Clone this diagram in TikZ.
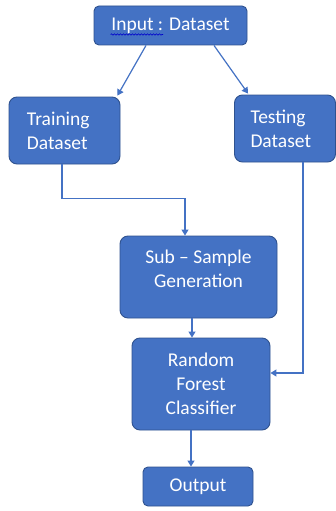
\documentclass[tikz,border=0pt]{standalone}
\usepackage{fontspec}
\setmainfont{Carlito}
\usetikzlibrary{calc}
\usetikzlibrary{arrows.meta}
\usetikzlibrary{decorations.pathmorphing}
\definecolor{boxblue}{HTML}{4472C4}
\definecolor{edgeblue}{HTML}{2F528F}
\tikzset{
	box/.style={draw=edgeblue,fill=boxblue,line width=0.9pt,rounded corners=8pt,text=white,inner sep=0pt,
		font=\fontsize{19.5}{24}\selectfont,align=center},
	link/.style={draw=boxblue,line width=1.2pt,-{Triangle[width=7pt,length=6pt]}}
}

\begin{document}
\begin{tikzpicture}[x=1pt,y=-1pt]
	\useasboundingbox[fill=white] (0,0) rectangle (336,511);
	
	%BOXES
	\node[box,rounded corners=5pt,minimum width=153,minimum height=39] (input) at (170.5,25.5) {Input : Dataset};
	\node[box,align=left,text width=75,inner xsep=18,minimum height=67] (train) at (64.5,130.5) {Training\\Dataset};
	\node[box,align=left,text width=69,inner xsep=16,minimum height=67] (test) at (285,128.5) {Testing\\Dataset};
	\node[box,text depth=16pt,minimum width=157,minimum height=82] (sub) at (198.5,277) {Sub – Sample\\Generation};
	\node[box,minimum width=138,minimum height=92] (rf) at (201,384) {Random\\Forest\\Classifier};
	\node[box,rounded corners=5pt,minimum width=110,minimum height=39] (out) at (198,486.5) {Output};
	
	%SPELLCHECK MARK
	\draw[blue!80!black,line width=0.6pt,decorate,decoration={snake,amplitude=0.7pt,segment length=3pt}] (110.5,34.5)--(163,34.5);
	
	%CONNECTORS
	\draw[link] ([xshift=-24.5]input.south) -- ([xshift=-3,yshift=1]train.north east);
	\draw[link] ([xshift=43.5]input.south) -- ([xshift=14,yshift=1]test.north west);
	\draw[link] ([xshift=-2.5]train.south) -- ++(0,34) -| ([xshift=-13.5]sub.north);
	\draw[link] ([xshift=18]test.south) |- ([yshift=11]rf.east);
	\draw[link] ([xshift=-6.5]sub.south) -- ([xshift=-6.5]sub.south |- rf.north);
	\draw[link] ([xshift=-10]rf.south) -- ([xshift=-10]rf.south |- out.north);
\end{tikzpicture}
\end{document}
